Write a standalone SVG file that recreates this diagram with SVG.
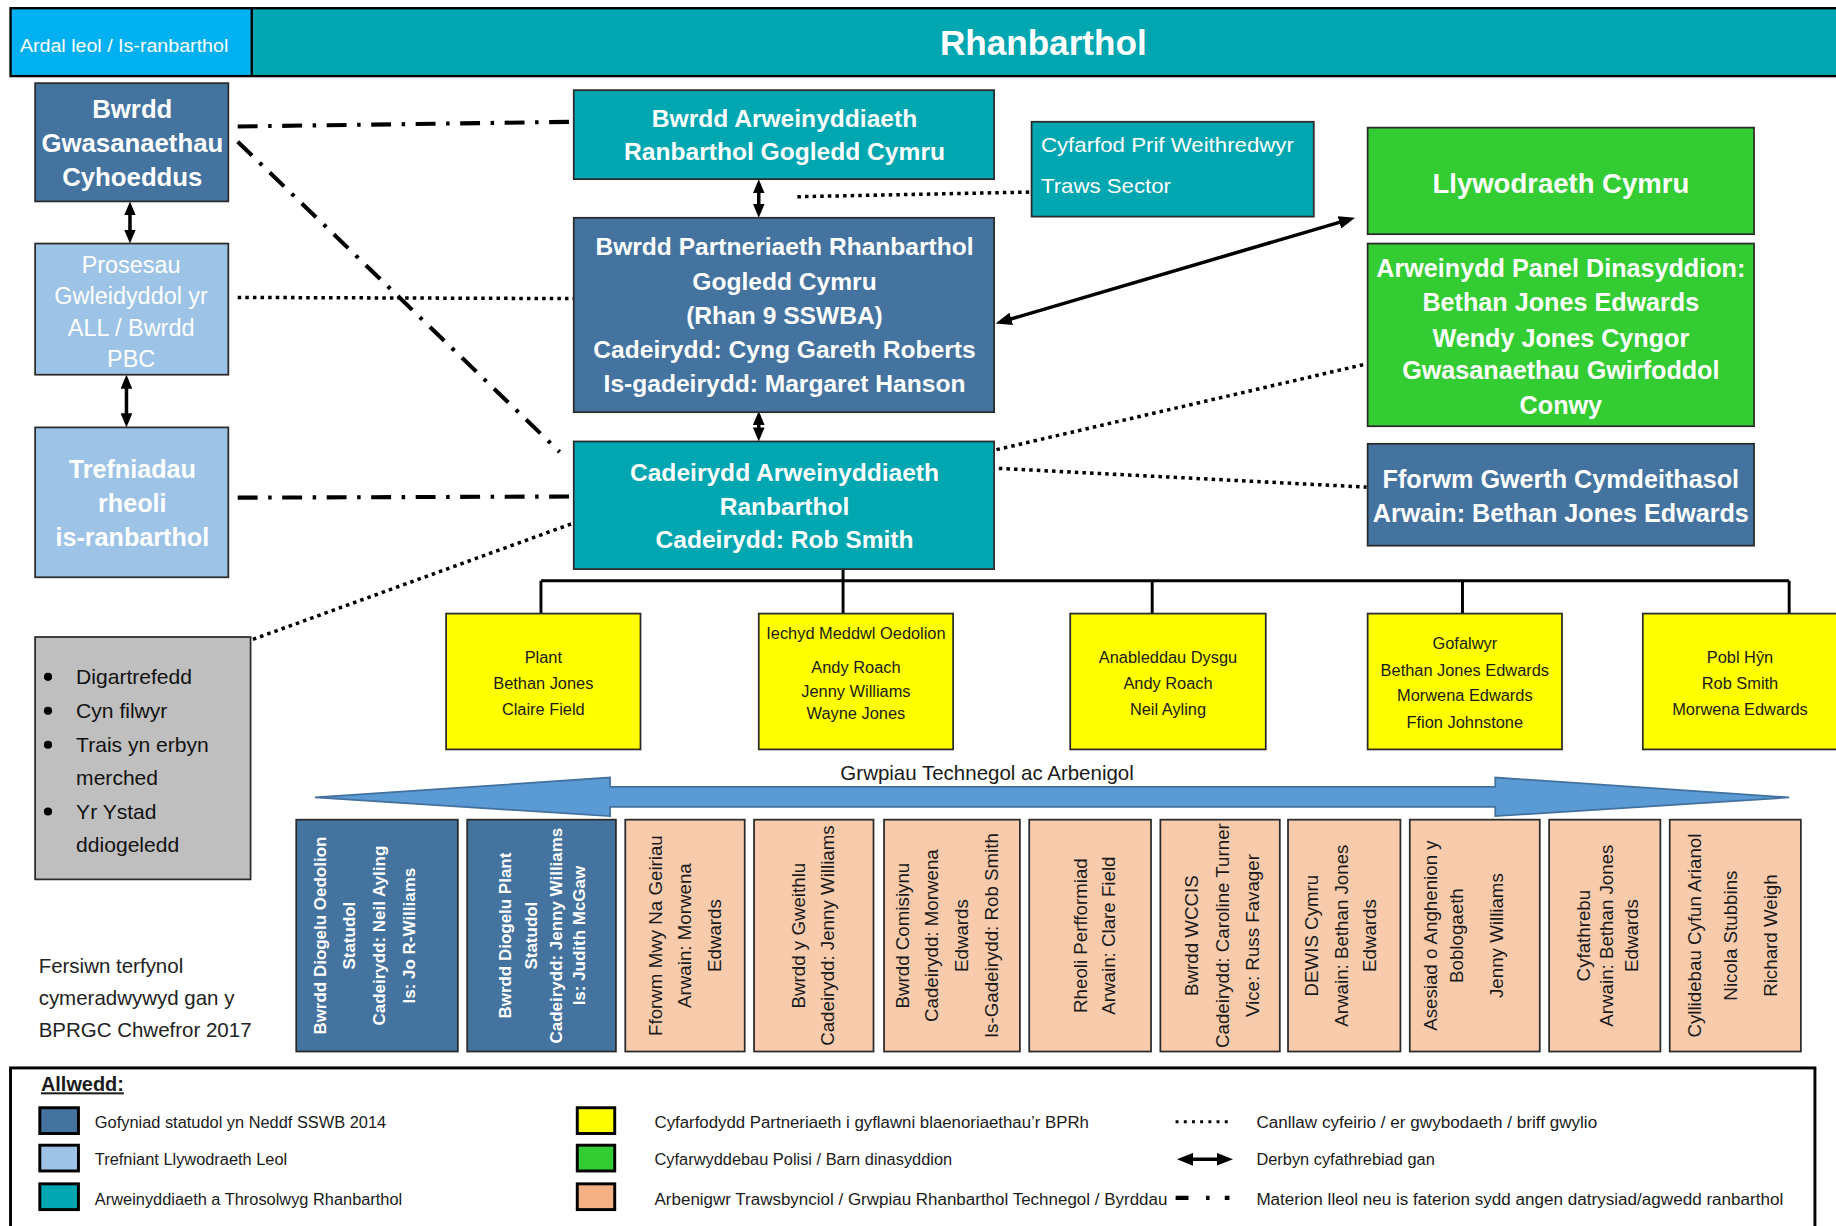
<svg xmlns="http://www.w3.org/2000/svg" width="1836" height="1226" viewBox="0 0 1836 1226">
<style>
text{font-family:"Liberation Sans",Arial,sans-serif}
.box{stroke:#2b2b2b;stroke-width:1.5}
.blue{fill:#44739F}
.lblue{fill:#9DC3E6}
.teal{fill:#00A6B0}
.green{fill:#33CC33}
.yellow{fill:#FFFF00}
.salmon{fill:#F8CBAD}
.grey{fill:#BFBFBF}
.wb{fill:#fff;font-weight:bold;text-anchor:middle}
.wn{fill:#fff;text-anchor:middle}
.yt{fill:#1a1a1a;font-size:14px;text-anchor:middle}
.rb{fill:#fff;font-weight:bold;font-size:14.5px;text-anchor:middle}
.rs{fill:#1a1a1a;font-size:16px;text-anchor:middle}
.lg{fill:#1a1a1a;font-size:14px}
.dd{fill:none;stroke:#000;stroke-width:3.5;stroke-dasharray:17 9 3 9}
.dot{fill:none;stroke:#000;stroke-width:3;stroke-dasharray:3 3.5}
.sol{fill:none;stroke:#000;stroke-width:3}
.tree{fill:none;stroke:#000;stroke-width:2.5}
</style>
<defs>
<marker id="ah" markerUnits="userSpaceOnUse" markerWidth="12" markerHeight="10" viewBox="0 0 12 10" refX="8" refY="5" orient="auto-start-reverse"><path d="M0,0 L12,5 L0,10 z" fill="#000"/></marker>
<marker id="ah2" markerUnits="userSpaceOnUse" markerWidth="14" markerHeight="11" viewBox="0 0 14 11" refX="9" refY="5.5" orient="auto-start-reverse"><path d="M0,0 L14,5.5 L0,11 z" fill="#000"/></marker>
</defs>
<rect width="1836" height="1226" fill="#fff"/>
<g transform="scale(1.17092,1.17097)">
<g id="header">
<rect x="8" y="6" width="1575" height="60" fill="#000"/>
<rect x="10" y="8" width="204" height="56" fill="#00B0F0"/>
<rect x="216" y="8" width="1360" height="56" class="teal"/>
<text x="17" y="44" fill="#fff" font-size="16" textLength="178" lengthAdjust="spacingAndGlyphs">Ardal leol / Is-ranbarthol</text>
<text x="891" y="47" class="wb" font-size="30">Rhanbarthol</text>
</g>
<g id="connectors">
<path class="dd" d="M203,108 L490,104"/>
<path class="dd" d="M203,121 L478,386"/>
<path class="dd" d="M203,425 L490,424"/>
<path class="dot" d="M203,254 L490,255"/>
<path class="dot" d="M216,546 L489,447"/>
<path class="dot" d="M681,168 L881,164"/>
<path class="dot" d="M851,384 L1166,311"/>
<path class="dot" d="M853,400 L1167,416"/>
<path class="sol" d="M111,176 L111,204" marker-start="url(#ah)" marker-end="url(#ah)"/>
<path class="sol" d="M108,324 L108,361" marker-start="url(#ah)" marker-end="url(#ah)"/>
<path class="sol" d="M648,157 L648,182" marker-start="url(#ah)" marker-end="url(#ah)"/>
<path class="sol" d="M648,355 L648,373" marker-start="url(#ah)" marker-end="url(#ah)"/>
<path class="sol" stroke-width="3.5" d="M855,274.9 L1152.5,187.3" marker-start="url(#ah2)" marker-end="url(#ah2)"/>
<path class="tree" d="M720,486 L720,496 M462,496 L1528,496 M462,496 L462,524 M720,496 L720,524 M984,496 L984,524 M1249,496 L1249,524 M1528,496 L1528,524"/>
<path d="M269,681 L521,664 L521,672 L1277,672 L1277,664 L1528,681 L1277,697 L1277,689 L521,689 L521,697 Z" fill="#5B9BD5" stroke="#41719C" stroke-width="1.5"/>
</g>
<g id="n-bgc">
<rect x="30" y="71" width="165" height="101" class="box blue"/>
<text class="wb" font-size="22"><tspan x="113" y="101">Bwrdd</tspan><tspan x="113" y="129.5">Gwasanaethau</tspan><tspan x="113" y="158.5">Cyhoeddus</tspan></text>
</g>
<g id="n-prosesau">
<rect x="30" y="208" width="165" height="112" class="box lblue"/>
<text class="wn" font-size="20" fill="#F5F9FD"><tspan x="112" y="233">Prosesau</tspan><tspan x="112" y="260">Gwleidyddol yr</tspan><tspan x="112" y="287">ALL / Bwrdd</tspan><tspan x="112" y="313">PBC</tspan></text>
</g>
<g id="n-trefniadau">
<rect x="30" y="365" width="165" height="128" class="box lblue"/>
<text class="wb" font-size="21.5"><tspan x="113" y="408.5">Trefniadau</tspan><tspan x="113" y="437.5">rheoli</tspan><tspan x="113" y="466.5">is-ranbarthol</tspan></text>
</g>
<g id="n-grey">
<rect x="30" y="544" width="184" height="207" class="box grey"/>
<g fill="#000"><circle cx="41" cy="578" r="3.5"/><circle cx="41" cy="607" r="3.5"/><circle cx="41" cy="636" r="3.5"/><circle cx="41" cy="693" r="3.5"/></g>
<text fill="#111" font-size="18"><tspan x="65" y="584">Digartrefedd</tspan><tspan x="65" y="613">Cyn filwyr</tspan><tspan x="65" y="642">Trais yn erbyn</tspan><tspan x="65" y="670">merched</tspan><tspan x="65" y="699">Yr Ystad</tspan><tspan x="65" y="728">ddiogeledd</tspan></text>
</g>
<g id="n-version">
<text fill="#222" font-size="17.5"><tspan x="33" y="831">Fersiwn terfynol</tspan><tspan x="33" y="858">cymeradwywyd gan y</tspan><tspan x="33" y="886">BPRGC Chwefror 2017</tspan></text>
</g>
<g id="n-bar">
<rect x="490" y="77" width="359" height="76" class="box teal"/>
<text class="wb" font-size="21"><tspan x="670" y="108.5">Bwrdd Arweinyddiaeth</tspan><tspan x="670" y="137">Ranbarthol Gogledd Cymru</tspan></text>
</g>
<g id="n-bpr">
<rect x="490" y="186" width="359" height="166" class="box blue"/>
<text class="wb" font-size="21"><tspan x="670" y="218">Bwrdd Partneriaeth Rhanbarthol</tspan><tspan x="670" y="248">Gogledd Cymru</tspan><tspan x="670" y="276.5">(Rhan 9 SSWBA)</tspan><tspan x="670" y="305.5">Cadeirydd: Cyng Gareth Roberts</tspan><tspan x="670" y="335">Is-gadeirydd: Margaret Hanson</tspan></text>
</g>
<g id="n-car">
<rect x="490" y="377" width="359" height="109" class="box teal"/>
<text class="wb" font-size="21"><tspan x="670" y="411">Cadeirydd Arweinyddiaeth</tspan><tspan x="670" y="439.5">Ranbarthol</tspan><tspan x="670" y="468">Cadeirydd: Rob Smith</tspan></text>
</g>
<g id="n-cyfarfod">
<rect x="881" y="104" width="241" height="81" class="box teal"/>
<text fill="#fff" font-size="18"><tspan x="889" y="129.5" textLength="216" lengthAdjust="spacingAndGlyphs">Cyfarfod Prif Weithredwyr</tspan><tspan x="889" y="164.5" textLength="111" lengthAdjust="spacingAndGlyphs">Traws Sector</tspan></text>
</g>
<g id="n-llyw">
<rect x="1168" y="109" width="330" height="91" class="box green"/>
<text x="1333" y="165" class="wb" font-size="23.5">Llywodraeth Cymru</text>
</g>
<g id="n-panel">
<rect x="1168" y="208" width="330" height="156" class="box green"/>
<text class="wb" font-size="21.5"><tspan x="1333" y="236.5">Arweinydd Panel Dinasyddion:</tspan><tspan x="1333" y="266">Bethan Jones Edwards</tspan><tspan x="1333" y="296">Wendy Jones Cyngor</tspan><tspan x="1333" y="324">Gwasanaethau Gwirfoddol</tspan><tspan x="1333" y="353.5">Conwy</tspan></text>
</g>
<g id="n-fforwm">
<rect x="1168" y="379" width="330" height="87" class="box blue"/>
<text class="wb" font-size="21.5"><tspan x="1333" y="417">Fforwm Gwerth Cymdeithasol</tspan><tspan x="1333" y="446">Arwain: Bethan Jones Edwards</tspan></text>
</g>
<g id="n-plant">
<rect x="381" y="524" width="166" height="116" class="box yellow"/>
<text class="yt"><tspan x="464" y="566">Plant</tspan><tspan x="464" y="588">Bethan Jones</tspan><tspan x="464" y="611">Claire Field</tspan></text>
</g>
<g id="n-iechyd">
<rect x="648" y="524" width="166" height="116" class="box yellow"/>
<text class="yt"><tspan x="731" y="546">Iechyd Meddwl Oedolion</tspan><tspan x="731" y="575">Andy Roach</tspan><tspan x="731" y="595">Jenny Williams</tspan><tspan x="731" y="614">Wayne Jones</tspan></text>
</g>
<g id="n-anabl">
<rect x="914" y="524" width="167" height="116" class="box yellow"/>
<text class="yt"><tspan x="997.5" y="566">Anableddau Dysgu</tspan><tspan x="997.5" y="588">Andy Roach</tspan><tspan x="997.5" y="611">Neil Ayling</tspan></text>
</g>
<g id="n-gofal">
<rect x="1168" y="524" width="166" height="116" class="box yellow"/>
<text class="yt"><tspan x="1251" y="554">Gofalwyr</tspan><tspan x="1251" y="577">Bethan Jones Edwards</tspan><tspan x="1251" y="599">Morwena Edwards</tspan><tspan x="1251" y="622">Ffion Johnstone</tspan></text>
</g>
<g id="n-pobl">
<rect x="1403" y="524" width="170" height="116" class="box yellow"/>
<text class="yt"><tspan x="1486" y="566">Pobl Hŷn</tspan><tspan x="1486" y="588">Rob Smith</tspan><tspan x="1486" y="611">Morwena Edwards</tspan></text>
</g>
<g id="n-grwpiau">
<text x="843" y="666" fill="#1a1a1a" font-size="17.5" text-anchor="middle">Grwpiau Technegol ac Arbenigol</text>
</g>
<g id="n-b1">
<rect x="253" y="700" width="138" height="198" class="box blue"/>
<text class="rb" transform="translate(278,799) rotate(-90)">Bwrdd Diogelu Oedolion</text>
<text class="rb" transform="translate(303,799) rotate(-90)">Statudol</text>
<text class="rb" transform="translate(328.5,799) rotate(-90)">Cadeirydd: Neil Ayling</text>
<text class="rb" transform="translate(354,799) rotate(-90)">Is: Jo R-Williams</text>
</g>
<g id="n-b2">
<rect x="399" y="700" width="127" height="198" class="box blue"/>
<text class="rb" transform="translate(436,799) rotate(-90)">Bwrdd Diogelu Plant</text>
<text class="rb" transform="translate(459,799) rotate(-90)">Statudol</text>
<text class="rb" transform="translate(480,799) rotate(-90)">Cadeirydd: Jenny Williams</text>
<text class="rb" transform="translate(499.5,799) rotate(-90)">Is: Judith McGaw</text>
</g>
<g id="n-s1">
<rect x="534" y="700" width="102" height="198" class="box salmon"/>
<text class="rs" transform="translate(565.5,799) rotate(-90)">Fforwm Mwy Na Geiriau</text>
<text class="rs" transform="translate(590.5,799) rotate(-90)">Arwain: Morwena</text>
<text class="rs" transform="translate(615.5,799) rotate(-90)">Edwards</text>
</g>
<g id="n-s2">
<rect x="644" y="700" width="102" height="198" class="box salmon"/>
<text class="rs" transform="translate(687.5,799) rotate(-90)">Bwrdd y Gweithlu</text>
<text class="rs" transform="translate(712.5,799) rotate(-90)">Cadeirydd: Jenny Williams</text>
</g>
<g id="n-s3">
<rect x="755" y="700" width="116" height="198" class="box salmon"/>
<text class="rs" transform="translate(776.5,799) rotate(-90)">Bwrdd Comisiynu</text>
<text class="rs" transform="translate(801.5,799) rotate(-90)">Cadeirydd: Morwena</text>
<text class="rs" transform="translate(826.5,799) rotate(-90)">Edwards</text>
<text class="rs" transform="translate(852.5,799) rotate(-90)">Is-Gadeirydd: Rob Smith</text>
</g>
<g id="n-s4">
<rect x="879" y="700" width="104" height="198" class="box salmon"/>
<text class="rs" transform="translate(928.5,799) rotate(-90)">Rheoli Perfformiad</text>
<text class="rs" transform="translate(952.5,799) rotate(-90)">Arwain: Clare Field</text>
</g>
<g id="n-s5">
<rect x="991" y="700" width="102" height="198" class="box salmon"/>
<text class="rs" transform="translate(1023.5,799) rotate(-90)">Bwrdd WCCIS</text>
<text class="rs" transform="translate(1049.5,799) rotate(-90)">Cadeirydd: Caroline Turner</text>
<text class="rs" transform="translate(1075.5,799) rotate(-90)">Vice: Russ Favager</text>
</g>
<g id="n-s6">
<rect x="1100" y="700" width="96" height="198" class="box salmon"/>
<text class="rs" transform="translate(1125.5,799) rotate(-90)">DEWIS Cymru</text>
<text class="rs" transform="translate(1151.5,799) rotate(-90)">Arwain: Bethan Jones</text>
<text class="rs" transform="translate(1175.5,799) rotate(-90)">Edwards</text>
</g>
<g id="n-s7">
<rect x="1204" y="700" width="111" height="198" class="box salmon"/>
<text class="rs" transform="translate(1227.5,799) rotate(-90)">Asesiad o Anghenion y</text>
<text class="rs" transform="translate(1249.5,799) rotate(-90)">Boblogaeth</text>
<text class="rs" transform="translate(1283.5,799) rotate(-90)">Jenny Williams</text>
</g>
<g id="n-s8">
<rect x="1323" y="700" width="95" height="198" class="box salmon"/>
<text class="rs" transform="translate(1357.5,799) rotate(-90)">Cyfathrebu</text>
<text class="rs" transform="translate(1377.5,799) rotate(-90)">Arwain: Bethan Jones</text>
<text class="rs" transform="translate(1398.5,799) rotate(-90)">Edwards</text>
</g>
<g id="n-s9">
<rect x="1426" y="700" width="112" height="198" class="box salmon"/>
<text class="rs" transform="translate(1452.5,799) rotate(-90)">Cyllidebau Cyfun Arianol</text>
<text class="rs" transform="translate(1483.5,799) rotate(-90)">Nicola Stubbins</text>
<text class="rs" transform="translate(1517.5,799) rotate(-90)">Richard Weigh</text>
</g>
<g id="legend">
<rect x="9" y="912" width="1541" height="150" fill="#fff" stroke="#000" stroke-width="2.5"/>
<text x="35" y="932" fill="#1a1a1a" font-size="17" font-weight="bold" text-decoration="underline">Allwedd:</text>
<g stroke="#000" stroke-width="2.5">
<rect x="34" y="946" width="33" height="22" class="blue"/>
<rect x="34" y="978" width="33" height="22" class="lblue"/>
<rect x="34" y="1011" width="33" height="22" class="teal"/>
<rect x="493" y="946" width="32" height="22" class="yellow"/>
<rect x="493" y="978" width="32" height="22" class="green"/>
<rect x="493" y="1011" width="32" height="22" fill="#F4B183"/>
</g>
<text class="lg"><tspan x="81" y="963">Gofyniad statudol yn Neddf SSWB 2014</tspan><tspan x="81" y="995">Trefniant Llywodraeth Leol</tspan><tspan x="81" y="1029">Arweinyddiaeth a Throsolwyg Rhanbarthol</tspan></text>
<text class="lg"><tspan x="559" y="963" textLength="371" lengthAdjust="spacingAndGlyphs">Cyfarfodydd Partneriaeth i gyflawni blaenoriaethau’r BPRh</tspan><tspan x="559" y="995">Cyfarwyddebau Polisi / Barn dinasyddion</tspan><tspan x="559" y="1029" textLength="438" lengthAdjust="spacingAndGlyphs">Arbenigwr Trawsbynciol / Grwpiau Rhanbarthol Technegol / Byrddau</tspan></text>
<path d="M1004,958 L1053,958" stroke="#000" stroke-width="2.5" stroke-dasharray="2.5 4.5" fill="none"/>
<path d="M1010,990 L1048,990" class="sol" marker-start="url(#ah2)" marker-end="url(#ah2)"/>
<path d="M1004,1023 L1052,1023" stroke="#000" stroke-width="3.5" stroke-dasharray="11 15 3 13 4 10" fill="none"/>
<text class="lg"><tspan x="1073" y="963" textLength="291" lengthAdjust="spacingAndGlyphs">Canllaw cyfeirio / er gwybodaeth / briff gwylio</tspan><tspan x="1073" y="995">Derbyn cyfathrebiad gan</tspan><tspan x="1073" y="1029" textLength="450" lengthAdjust="spacingAndGlyphs">Materion lleol neu is faterion sydd angen datrysiad/agwedd ranbarthol</tspan></text>
</g>
</g>
</svg>
